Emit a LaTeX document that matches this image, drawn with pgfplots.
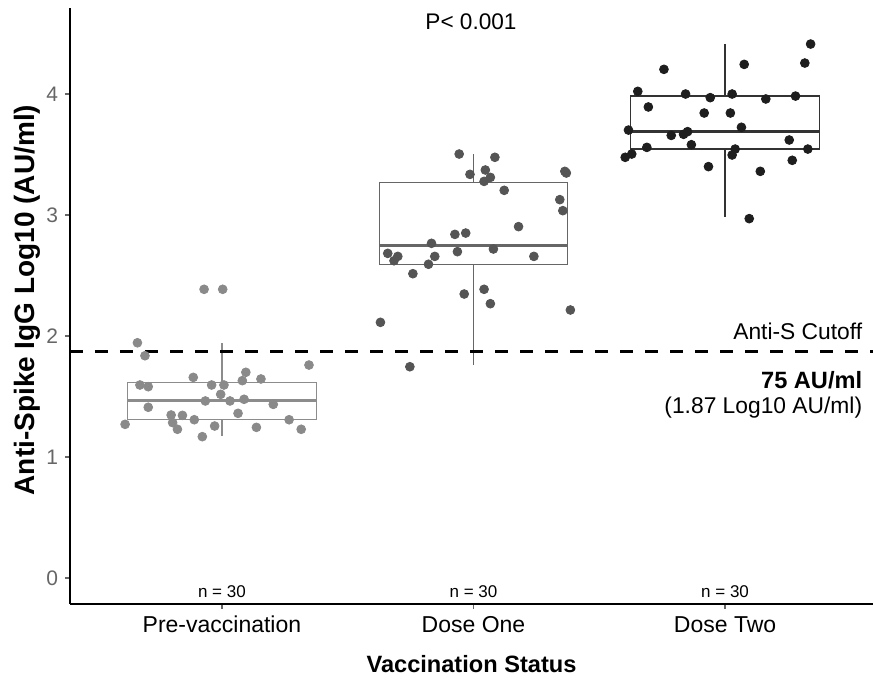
\documentclass[border=0pt]{standalone}
\usepackage{pgfplots}
\pgfplotsset{compat=1.18}
\usepgfplotslibrary{statistics}
\usepackage{fontspec}
\setmainfont{Liberation Sans}

\definecolor{preC}{HTML}{8A8A8A}
\definecolor{preBox}{HTML}{8C8C8C}
\definecolor{oneC}{HTML}{555555}
\definecolor{oneBox}{HTML}{666666}
\definecolor{twoC}{HTML}{1E1E1E}
\definecolor{twoBox}{HTML}{333333}

\begin{document}
\begin{tikzpicture}
\begin{axis}[
    scale only axis,
    width=401.5pt, height=298pt,
    xmin=0.396, xmax=3.588,
    ymin=-0.215, ymax=4.711,
    axis x line=bottom, axis y line=left,
    axis line style={-, black, line width=0.8pt},
    tick align=outside,
    major tick length=2.5pt,
    tick style={black!60, line width=0.6pt},
    xtick={1,2,3},
    xticklabels={Pre-vaccination, Dose One, Dose Two},
    ytick={0,1,2,3,4},
    /pgf/number format/assume math mode=true,
    xticklabel style={font=\fontsize{11.5}{13}\selectfont, text height=1.6ex, text depth=0.4ex},
    yticklabel style={text=black!60, font=\fontsize{10.5}{12}\selectfont},
    xlabel={\textbf{Vaccination Status}},
    ylabel={\textbf{Anti-Spike IgG Log10 (AU/ml)}},
    every axis x label/.style={at={(axis description cs:0.5,-0.1007)}, anchor=center, font=\fontsize{11.8}{14}\selectfont},
    every axis y label/.style={at={(axis description cs:-0.0535,0.51)}, anchor=center, rotate=90, font=\fontsize{14}{16}\selectfont},
    clip=false,
    boxplot/draw direction=y,
    boxplot/whisker extend=0,
    boxplot/every median/.style={line width=1.5pt},
]

% boxes
\addplot[draw=preBox, line width=0.6pt, boxplot prepared={lower whisker=1.176, lower quartile=1.308, median=1.471, upper quartile=1.617, upper whisker=1.944, draw position=1, box extend=0.75}] coordinates {};
\addplot[draw=oneBox, line width=0.6pt, boxplot prepared={lower whisker=1.760, lower quartile=2.593, median=2.744, upper quartile=3.270, upper whisker=3.504, draw position=2, box extend=0.75}] coordinates {};
\addplot[draw=twoBox, line width=0.6pt, boxplot prepared={lower whisker=2.981, lower quartile=3.545, median=3.694, upper quartile=3.983, upper whisker=4.413, draw position=3, box extend=0.75}] coordinates {};

% cutoff
\addplot[black, line width=1.5pt, dash pattern=on 6.5pt off 6pt] coordinates {(0.396,1.87) (3.588,1.87)};

% jittered points
\addplot[only marks, mark=*, mark size=2.2pt, color=preC] coordinates {
(0.929,2.386)(1.003,2.386)(0.664,1.944)(0.694,1.837)(1.346,1.760)(1.095,1.700)
(0.886,1.658)(1.081,1.631)(1.155,1.645)(0.674,1.595)(0.707,1.581)(0.959,1.595)
(1.008,1.595)(0.995,1.518)(0.934,1.463)(1.032,1.463)(1.088,1.477)(1.204,1.435)
(0.707,1.411)(1.064,1.361)(0.798,1.347)(0.843,1.344)(0.890,1.308)(1.267,1.308)
(0.804,1.284)(0.615,1.270)(0.823,1.229)(0.971,1.256)(1.137,1.245)(1.315,1.229)
(0.922,1.168)
};
\addplot[only marks, mark=*, mark size=2.2pt, color=oneC] coordinates {
(1.943,3.504)(2.085,3.477)(2.047,3.372)(1.986,3.336)(2.067,3.311)(2.042,3.278)
(2.363,3.361)(2.369,3.347)(2.122,3.204)(2.343,3.127)(2.355,3.036)(2.179,2.904)
(1.926,2.840)(1.969,2.851)(1.833,2.766)(2.079,2.719)(1.936,2.697)(1.659,2.683)
(1.699,2.658)(1.684,2.622)(1.846,2.658)(2.240,2.658)(1.821,2.593)(1.759,2.515)
(2.042,2.386)(1.963,2.347)(2.067,2.267)(2.385,2.215)(1.630,2.113)(1.747,1.746)
};
\addplot[only marks, mark=*, mark size=2.2pt, color=twoC] coordinates {
(3.340,4.413)(3.317,4.256)(3.076,4.245)(2.757,4.204)(2.653,4.022)(2.843,4.000)
(2.941,3.970)(3.028,4.000)(3.162,3.959)(3.280,3.983)(2.695,3.893)(2.917,3.843)
(3.021,3.843)(3.065,3.725)(2.616,3.702)(2.786,3.658)(2.835,3.667)(2.851,3.689)
(3.255,3.620)(2.689,3.559)(2.866,3.581)(3.329,3.545)(3.040,3.545)(3.028,3.496)
(2.629,3.504)(2.603,3.477)(3.267,3.452)(2.934,3.400)(3.140,3.361)(3.096,2.970)
};

% annotations
\node[font=\fontsize{11.3}{13}\selectfont] at (axis cs:1.990,4.595) {P< 0.001};
\node[anchor=east, font=\fontsize{11.4}{13}\selectfont] at (axis cs:3.573,2.041) {Anti-S Cutoff};
\node[anchor=east, font=\bfseries\fontsize{11.8}{13}\selectfont] at (axis cs:3.573,1.636) {75 AU/ml};
\node[anchor=east, font=\fontsize{11.4}{13}\selectfont] at (axis cs:3.573,1.405) {(1.87 Log10 AU/ml)};
\node[font=\fontsize{8.5}{10}\selectfont] at (axis cs:1,-0.116) {n = 30};
\node[font=\fontsize{8.5}{10}\selectfont] at (axis cs:2,-0.116) {n = 30};
\node[font=\fontsize{8.5}{10}\selectfont] at (axis cs:3,-0.116) {n = 30};
\end{axis}
\pgfresetboundingbox
\useasboundingbox (-35pt,-38pt) rectangle (401.5pt,302pt);
\end{tikzpicture}
\end{document}
